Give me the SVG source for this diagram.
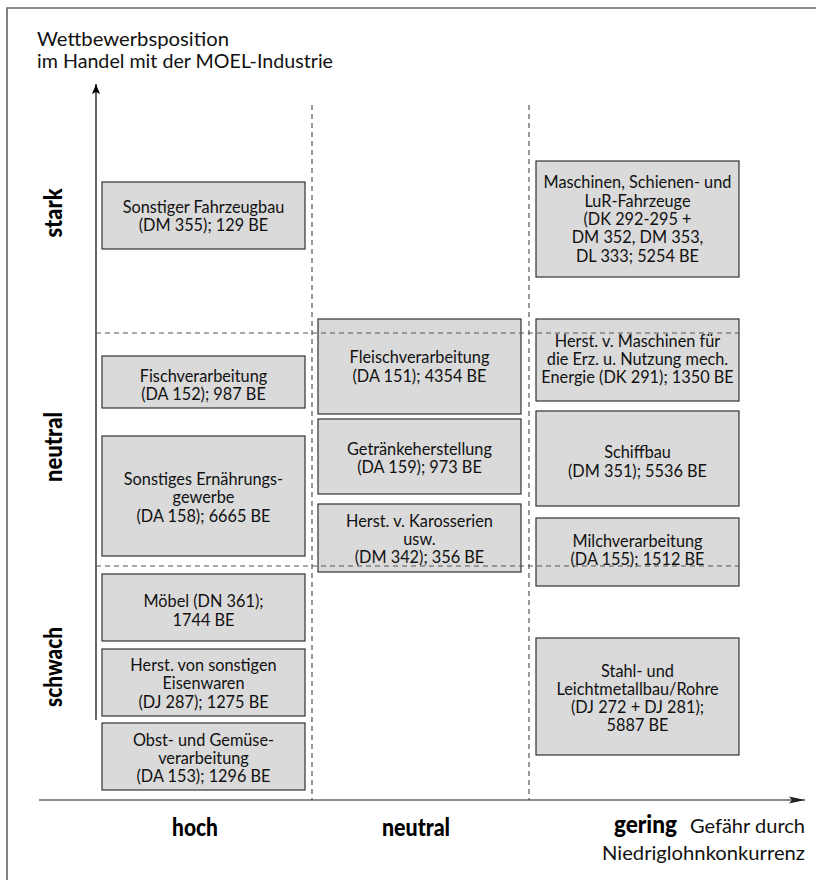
<svg xmlns="http://www.w3.org/2000/svg" width="816" height="880" viewBox="0 0 816 880">
<style>
.box{fill:#dadada;stroke:#333;stroke-width:1.2}
.t{font-family:Lato,"Open Sans","Liberation Sans",sans-serif;font-size:16.3px;fill:#111;text-anchor:middle}
.lab{font-family:Lato,"Open Sans","Liberation Sans",sans-serif;font-size:19px;fill:#111}
.ax{font-family:Lato,"Liberation Sans",sans-serif;font-weight:900;font-size:25px;fill:#000;text-anchor:middle}
.dash{stroke:#555;stroke-width:1.2;stroke-dasharray:5 4;fill:none}
</style>
<defs>
<marker id="ah" viewBox="0 0 10 10" refX="10" refY="5" markerWidth="10" markerHeight="10" markerUnits="userSpaceOnUse" orient="auto">
<path d="M0,1 L10,5 L0,9 L2,5 Z" fill="#000"/>
</marker>
<marker id="ah2" viewBox="0 0 16 10" refX="16" refY="5" markerWidth="16" markerHeight="10" markerUnits="userSpaceOnUse" orient="auto">
<path d="M0,1.5 L16,5 L0,8.5 L3,5 Z" fill="#222"/>
</marker>
</defs>
<path d="M7,880 L7,8 L816,8" fill="none" stroke="#666" stroke-width="1.6"/>
<g id="connectors">
<line x1="96" y1="720" x2="96" y2="84" stroke="#000" stroke-width="1.2" marker-end="url(#ah)"/>
<line x1="39" y1="800" x2="805" y2="800" stroke="#666" stroke-width="1.6" marker-end="url(#ah2)"/>
<line class="dash" x1="312" y1="105" x2="312" y2="800"/>
<line class="dash" x1="529" y1="105" x2="529" y2="800"/>
</g>
<g id="labels">
<text class="lab" x="37" y="46" textLength="192" lengthAdjust="spacingAndGlyphs">Wettbewerbsposition</text>
<text class="lab" x="37" y="68" textLength="296" lengthAdjust="spacingAndGlyphs">im Handel mit der MOEL-Industrie</text>
<text class="ax" transform="translate(62,213) rotate(-90)" textLength="49" lengthAdjust="spacingAndGlyphs">stark</text>
<text class="ax" transform="translate(62,447) rotate(-90)" textLength="70" lengthAdjust="spacingAndGlyphs">neutral</text>
<text class="ax" transform="translate(62,667) rotate(-90)" textLength="80" lengthAdjust="spacingAndGlyphs">schwach</text>
<text class="ax" x="195" y="836" textLength="46" lengthAdjust="spacingAndGlyphs">hoch</text>
<text class="ax" x="416" y="836" textLength="68" lengthAdjust="spacingAndGlyphs">neutral</text>
<text class="ax" x="645.5" y="833" textLength="63" lengthAdjust="spacingAndGlyphs">gering</text>
<text class="lab" x="690" y="833" textLength="115" lengthAdjust="spacingAndGlyphs">Gefähr durch</text>
<text class="lab" x="602" y="860" textLength="203" lengthAdjust="spacingAndGlyphs">Niedriglohnkonkurrenz</text>
</g>
<g id="n1"><rect class="box" x="102" y="182" width="203" height="67"/><text class="t" x="203.5" y="213">Sonstiger Fahrzeugbau</text><text class="t" x="203.5" y="231">(DM 355); 129 BE</text></g>
<g id="n2"><rect class="box" x="102" y="356" width="203" height="52"/><text class="t" x="203.5" y="382">Fischverarbeitung</text><text class="t" x="203.5" y="400">(DA 152); 987 BE</text></g>
<g id="n3"><rect class="box" x="102" y="436" width="203" height="120"/><text class="t" x="203.5" y="485">Sonstiges Ernährungs-</text><text class="t" x="203.5" y="503">gewerbe</text><text class="t" x="203.5" y="522">(DA 158); 6665 BE</text></g>
<g id="n4"><rect class="box" x="102" y="574" width="203" height="67"/><text class="t" x="203.5" y="607">Möbel (DN 361);</text><text class="t" x="203.5" y="626">1744 BE</text></g>
<g id="n5"><rect class="box" x="102" y="649" width="203" height="67"/><text class="t" x="203.5" y="671">Herst. von sonstigen</text><text class="t" x="203.5" y="689">Eisenwaren</text><text class="t" x="203.5" y="708">(DJ 287); 1275 BE</text></g>
<g id="n6"><rect class="box" x="102" y="723" width="203" height="67"/><text class="t" x="203.5" y="746">Obst- und Gemüse-</text><text class="t" x="203.5" y="764">verarbeitung</text><text class="t" x="203.5" y="782">(DA 153); 1296 BE</text></g>
<g id="n7"><rect class="box" x="318" y="319" width="203" height="95"/><text class="t" x="419.5" y="363">Fleischverarbeitung</text><text class="t" x="419.5" y="382">(DA 151); 4354 BE</text></g>
<g id="n8"><rect class="box" x="318" y="419" width="203" height="75"/><text class="t" x="419.5" y="455">Getränkeherstellung</text><text class="t" x="419.5" y="473">(DA 159); 973 BE</text></g>
<g id="n9"><rect class="box" x="318" y="504" width="203" height="68"/><text class="t" x="419.5" y="527">Herst. v. Karosserien</text><text class="t" x="419.5" y="545">usw.</text><text class="t" x="419.5" y="563">(DM 342); 356 BE</text></g>
<g id="n10"><rect class="box" x="536" y="161" width="203" height="116"/><text class="t" x="637.5" y="188">Maschinen, Schienen- und</text><text class="t" x="637.5" y="207">LuR-Fahrzeuge</text><text class="t" x="637.5" y="225">(DK 292-295 +</text><text class="t" x="637.5" y="243">DM 352, DM 353,</text><text class="t" x="637.5" y="262">DL 333; 5254 BE</text></g>
<g id="n11"><rect class="box" x="536" y="319" width="203" height="82"/><text class="t" x="637.5" y="347">Herst. v. Maschinen für</text><text class="t" x="637.5" y="365">die Erz. u. Nutzung mech.</text><text class="t" x="637.5" y="383">Energie (DK 291); 1350 BE</text></g>
<g id="n12"><rect class="box" x="536" y="411" width="203" height="95"/><text class="t" x="637.5" y="458">Schiffbau</text><text class="t" x="637.5" y="477">(DM 351); 5536 BE</text></g>
<g id="n13"><rect class="box" x="536" y="518" width="203" height="68"/><text class="t" x="637.5" y="547">Milchverarbeitung</text><text class="t" x="637.5" y="565">(DA 155); 1512 BE</text></g>
<g id="n14"><rect class="box" x="536" y="638" width="203" height="117"/><text class="t" x="637.5" y="677">Stahl- und</text><text class="t" x="637.5" y="695">Leichtmetallbau/Rohre</text><text class="t" x="637.5" y="713">(DJ 272 + DJ 281);</text><text class="t" x="637.5" y="731">5887 BE</text></g>
<g id="gridlines">
<line class="dash" x1="96" y1="333" x2="739" y2="333"/>
<line class="dash" x1="96" y1="566" x2="739" y2="566"/>
</g>
</svg>
